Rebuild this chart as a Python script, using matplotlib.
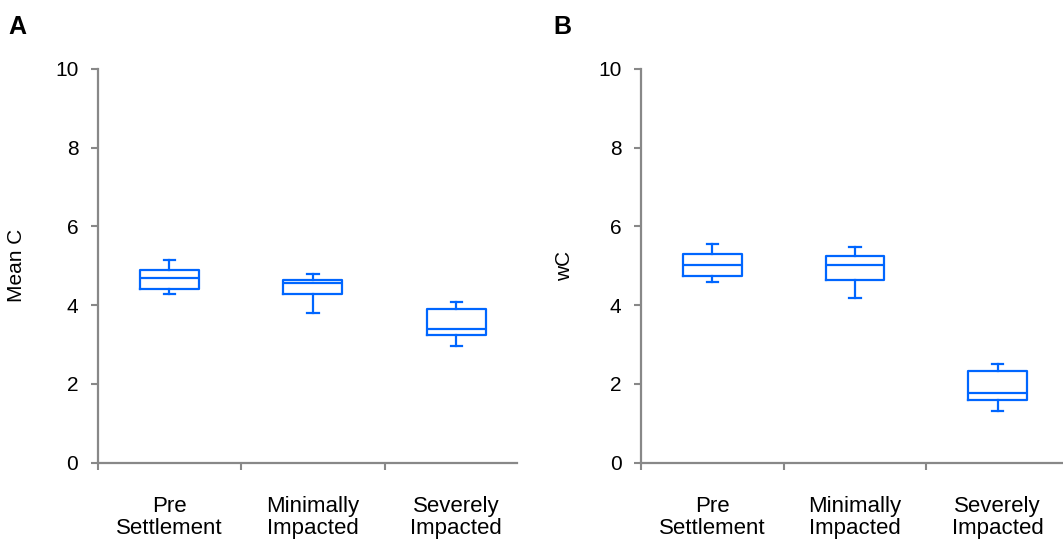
import matplotlib.pyplot as plt

plt.rcParams['font.family'] = ['Liberation Sans', 'DejaVu Sans']

categories = ['Pre\nSettlement', 'Minimally\nImpacted', 'Severely\nImpacted']

# panel A: Mean C
a_whislo = [4.28, 3.81, 2.97]
a_q1 = [4.41, 4.28, 3.25]
a_med = [4.69, 4.56, 3.39]
a_q3 = [4.88, 4.64, 3.91]
a_whishi = [5.15, 4.79, 4.08]

# panel B: wC
b_whislo = [4.59, 4.18, 1.31]
b_q1 = [4.74, 4.64, 1.59]
b_med = [5.02, 5.01, 1.77]
b_q3 = [5.29, 5.25, 2.32]
b_whishi = [5.56, 5.47, 2.51]

blue = '#0066ff'
grey = '#888888'
W, H = 1063, 542


def stats(lo, q1, med, q3, hi):
    out = []
    for i in range(len(med)):
        out.append({'whislo': lo[i], 'q1': q1[i], 'med': med[i],
                    'q3': q3[i], 'whishi': hi[i], 'fliers': []})
    return out


def panel(rect, st, ylabel, label_off, letter, letter_x, xend):
    ax = fig.add_axes(rect)
    ls = dict(color=blue, linewidth=1.6)
    ax.bxp(st, positions=[1, 2, 3], widths=0.41, capwidths=0.08,
           boxprops=ls, medianprops=ls, whiskerprops=ls, capprops=ls,
           showfliers=False, manage_ticks=False)
    ax.set_xlim(0.5, 3.5)
    ax.set_ylim(0, 10)
    ax.set_yticks([0, 2, 4, 6, 8, 10])
    # category boundary ticks, no tick at the cut-off right end
    ax.set_xticks([0.5, 1.5, 2.5])
    ax.set_xticklabels([])
    ax.set_xticks([1, 2, 3], minor=True)
    ax.set_xticklabels(categories, minor=True, fontsize=16, linespacing=1.1)
    ax.tick_params(axis='x', which='minor', length=0, pad=24)
    ax.tick_params(axis='x', which='major', direction='out', length=5,
                   width=1.5, color=grey)
    ax.tick_params(axis='y', direction='out', length=5, width=1.5,
                   color=grey, labelsize=15, pad=9)
    for s in ['top', 'right']:
        ax.spines[s].set_visible(False)
    for s in ['left', 'bottom']:
        ax.spines[s].set_color(grey)
        ax.spines[s].set_linewidth(1.6)
    ax.spines['bottom'].set_bounds(0.5, xend)
    ax.set_ylabel(ylabel, fontsize=15)
    ax.yaxis.set_label_coords(-label_off / (rect[2] * W), 0.5)
    fig.text(letter_x / W, 1 - 27 / H, letter, fontsize=18,
             fontweight='bold', va='center')
    return ax


fig = plt.figure(figsize=(W / 100, H / 100), dpi=100)
bottom = 1 - 462.5 / H
height = (462.5 - 69) / H
panel([97.7 / W, bottom, (528 - 97.7) / W, height],
      stats(a_whislo, a_q1, a_med, a_q3, a_whishi), 'Mean C', 72, 'A', 8, 3.42)
panel([641 / W, bottom, (1069 - 641) / W, height],
      stats(b_whislo, b_q1, b_med, b_q3, b_whishi), 'wC', 67, 'B', 553, 3.5)

fig.savefig('out.png', dpi=100)
